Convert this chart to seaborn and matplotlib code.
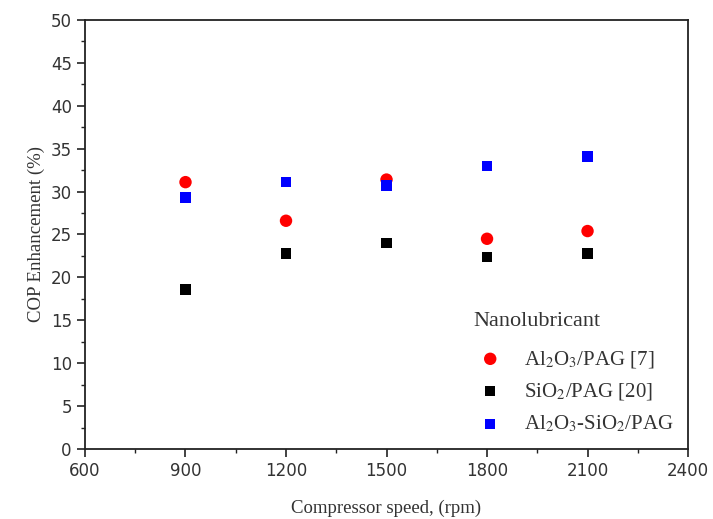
import pandas as pd
import matplotlib
matplotlib.use("Agg")
import matplotlib.pyplot as plt
import seaborn as sns
from matplotlib.ticker import MultipleLocator

# -------------------------------
# DATA
# -------------------------------
speed = [900, 1200, 1500, 1800, 2100]
al2o3_pag = [31.1, 26.6, 31.4, 24.5, 25.4]
sio2_pag = [18.6, 22.8, 24.0, 22.4, 22.8]
hybrid_pag = [29.3, 31.1, 30.7, 33.0, 34.1]

labels = [r"Al$_2$O$_3$/PAG [7]", r"SiO$_2$/PAG [20]", r"Al$_2$O$_3$-SiO$_2$/PAG"]
colors = ["#ff0000", "#000000", "#0000ff"]
markers = ["o", "s", "s"]
sizes = [80, 55, 55]

df = pd.DataFrame({
    "speed": speed * 3,
    "cop": al2o3_pag + sio2_pag + hybrid_pag,
    "series": [labels[0]] * 5 + [labels[1]] * 5 + [labels[2]] * 5,
})

# -------------------------------
# PLOT
# -------------------------------
sns.set_style("ticks")
plt.rcParams["mathtext.fontset"] = "stix"

fig = plt.figure(figsize=(7.13, 5.19), dpi=100)
ax = fig.add_axes([0.1192, 0.1349, 0.8458, 0.8266])

for lab, col, mk, sz in zip(labels, colors, markers, sizes):
    sub = df[df["series"] == lab]
    sns.scatterplot(ax=ax, data=sub, x="speed", y="cop", color=col, marker=mk,
                    s=sz, edgecolor="none", label=lab, zorder=3)

ax.set_xlim(600, 2400)
ax.set_ylim(0, 50)
ax.xaxis.set_major_locator(MultipleLocator(300))
ax.xaxis.set_minor_locator(MultipleLocator(150))
ax.yaxis.set_major_locator(MultipleLocator(5))
ax.yaxis.set_minor_locator(MultipleLocator(2.5))
ax.tick_params(which="major", direction="out", length=6, width=1.2, labelsize=12,
               colors="#222222", labelcolor="#333333")
ax.tick_params(which="minor", direction="out", length=3, width=1.0, colors="#222222")
for sp in ax.spines.values():
    sp.set_linewidth(1.3)
    sp.set_color("#222222")

ax.set_xlabel("Compressor speed, (rpm)", family="Liberation Serif", fontsize=13.5,
              color="#333333", labelpad=14)
ax.set_ylabel("COP Enhancement (%)", family="Liberation Serif", fontsize=13.5,
              color="#333333", labelpad=4)

leg = ax.legend(title="Nanolubricant", loc="lower right", frameon=False,
                prop={"family": "Liberation Serif", "size": 15},
                labelspacing=0.55, handletextpad=0.8, handlelength=1.6,
                borderaxespad=0.3, markerscale=1.0)
leg.get_title().set_family("Liberation Serif")
leg.get_title().set_fontsize(16)
leg.get_title().set_color("#333333")
leg._legend_box.align = "left"
leg._legend_box.sep = 13
for t in leg.get_texts():
    t.set_color("#333333")

fig.savefig("out.png", dpi=100)
